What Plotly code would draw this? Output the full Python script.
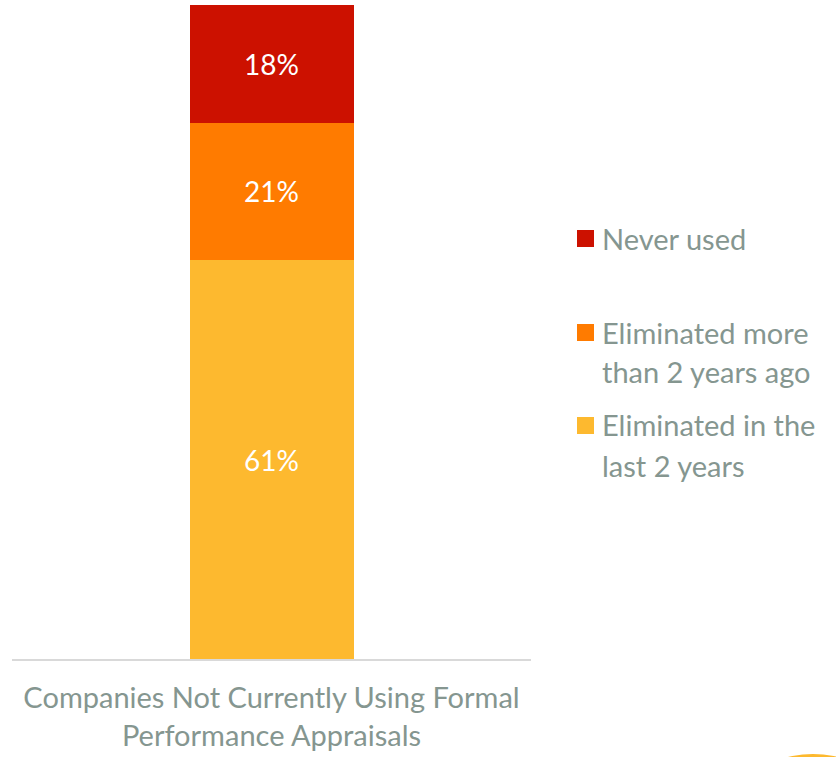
import plotly.graph_objects as go

# Data
category = ["Companies Not Currently Using Formal<br>Performance Appraisals"]
series_names = ["Eliminated in the last 2 years", "Eliminated more than 2 years ago", "Never used"]
legend_lines = [["Eliminated in the", "last 2 years"], ["Eliminated more", "than 2 years ago"], ["Never used"]]
series_values = [61, 21, 18]
series_colors = ["#FDB92F", "#FF7B00", "#CC1100"]

FONT = "Lato, 'Open Sans', sans-serif"
TEXT_GREY = "#859690"

W, H = 836, 757
L, R, T, B = 12, 305, 5, 98
pw, ph = W - L - R, H - T - B

fig = go.Figure()
for name, val, col in zip(series_names, series_values, series_colors):
    fig.add_trace(go.Bar(
        x=category, y=[val], name=name,
        marker=dict(color=col, line=dict(width=0)),
        text=[f"{val}%"], textposition="inside", insidetextanchor="middle",
        textfont=dict(color="white", size=28, family=FONT),
        width=0.316, showlegend=False,
    ))

def px_x(x):
    return (x - L) / pw

def px_y(y):
    return (H - B - y) / ph

# Legend drawn as squares + labels, top to bottom (first-line centre in px)
legend_rows = [(238, 2), (332, 1), (425, 0)]
LINE_GAP = 40
shapes = []
annotations = []
for y, idx in legend_rows:
    shapes.append(dict(type="rect", xref="paper", yref="paper",
                       x0=px_x(577), x1=px_x(594), y0=px_y(y + 9), y1=px_y(y - 8),
                       fillcolor=series_colors[idx], line=dict(width=0)))
    for k, line in enumerate(legend_lines[idx]):
        annotations.append(dict(xref="paper", yref="paper", x=px_x(600), y=px_y(y + k * LINE_GAP),
                                xanchor="left", yanchor="middle", align="left", showarrow=False,
                                text=line,
                                font=dict(size=29, color=TEXT_GREY, family=FONT)))

# Decorative arc in the bottom-right corner
shapes.append(dict(type="circle", xref="paper", yref="paper",
                   x0=px_x(707), x1=px_x(919), y0=px_y(966), y1=px_y(754),
                   fillcolor="#FDB92F", line=dict(width=0), layer="below"))

fig.update_layout(
    barmode="stack",
    width=W, height=H,
    margin=dict(l=L, r=R, t=T, b=B),
    paper_bgcolor="white", plot_bgcolor="white",
    font=dict(family=FONT, color=TEXT_GREY),
    xaxis=dict(range=[-0.5, 0.5], showgrid=False, showline=True, linecolor="#D9D9D9",
               linewidth=2, ticks="", tickfont=dict(size=29, color=TEXT_GREY, family=FONT),
               ticklabelstandoff=12, zeroline=False),
    yaxis=dict(range=[0, 100], visible=False, showgrid=False, zeroline=False),
    shapes=shapes,
    annotations=annotations,
    uniformtext=dict(mode="show", minsize=10),
)

fig.write_html("out.html")
